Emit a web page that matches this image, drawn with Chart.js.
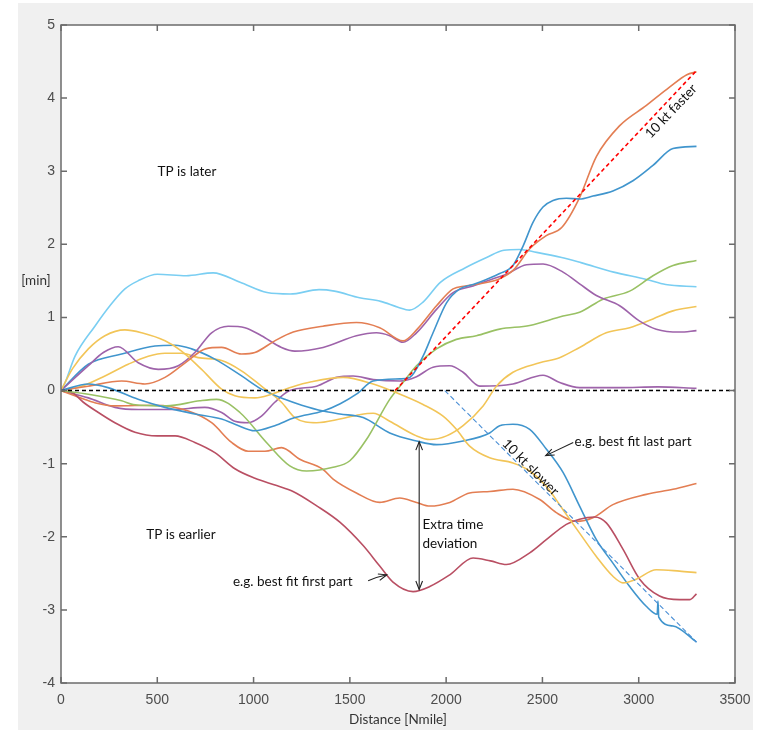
<!DOCTYPE html>
<html>
<head>
<meta charset="utf-8">
<script src="https://cdn.jsdelivr.net/npm/chart.js@4.4.1/dist/chart.umd.min.js"></script>
<style>
  html, body { margin: 0; padding: 0; background: #fff; }
  #wrap { width: 761px; height: 730px; }
</style>
</head>
<body>
<div id="wrap"><canvas id="deviation" width="761" height="730"></canvas></div>
<script>
// axis ticks
const xTicks = [0, 500, 1000, 1500, 2000, 2500, 3000, 3500];
const yTicks = [-4, -3, -2, -1, 0, 1, 2, 3, 4, 5];

// [distance Nmile, deviation min]
const blueLow = [[0,0],[142,0.09],[244,0.04],[400,-0.12],[540,-0.23],[695,-0.32],[834,-0.39],[903,-0.46],[1007,-0.55],[1110,-0.48],[1214,-0.37],[1361,-0.28],[1450,-0.18],[1534,-0.05],[1621,0.13],[1760,0.16],[1811,0.18],[1880,0.47],[1932,0.79],[2002,1.2],[2071,1.39],[2140,1.45],[2209,1.52],[2278,1.6],[2347,1.71],[2400,1.98],[2451,2.3],[2503,2.51],[2555,2.6],[2624,2.63],[2693,2.62],[2762,2.66],[2866,2.73],[2970,2.87],[3074,3.08],[3178,3.31],[3300,3.34]];
const orangeUp = [[0,0],[140,0.06],[315,0.13],[436,0.09],[540,0.18],[660,0.41],[750,0.57],[834,0.59],[937,0.5],[1007,0.52],[1110,0.68],[1206,0.8],[1360,0.88],[1534,0.93],[1655,0.86],[1776,0.68],[1850,0.84],[1950,1.16],[2036,1.39],[2100,1.43],[2174,1.46],[2278,1.53],[2350,1.65],[2434,1.94],[2520,2.12],[2600,2.23],[2693,2.64],[2780,3.2],[2900,3.62],[3040,3.9],[3160,4.15],[3250,4.32],[3300,4.36]];
const yellowHigh = [[0,0],[60,0.3],[142,0.57],[228,0.75],[332,0.83],[419,0.79],[540,0.68],[626,0.54],[730,0.29],[834,0.02],[903,-0.07],[1007,-0.1],[1093,-0.05],[1200,0.05],[1300,0.12],[1465,0.18],[1621,0.09],[1742,-0.03],[1880,-0.19],[1984,-0.35],[2053,-0.53],[2122,-0.76],[2226,-0.92],[2347,-0.99],[2434,-1.1],[2520,-1.31],[2607,-1.63],[2693,-1.95],[2780,-2.27],[2866,-2.54],[2918,-2.63],[2987,-2.58],[3091,-2.45],[3212,-2.47],[3300,-2.49]];
const purpleUp = [[0,0],[142,0.34],[220,0.52],[297,0.6],[401,0.38],[505,0.29],[609,0.34],[695,0.52],[782,0.79],[868,0.88],[955,0.86],[1041,0.75],[1145,0.59],[1214,0.54],[1361,0.59],[1534,0.75],[1638,0.79],[1707,0.75],[1776,0.66],[1846,0.79],[1950,1.11],[2036,1.34],[2140,1.43],[2244,1.53],[2313,1.59],[2417,1.72],[2503,1.73],[2607,1.62],[2693,1.46],[2780,1.3],[2901,1.16],[3005,0.95],[3091,0.84],[3212,0.8],[3300,0.82]];
const green = [[0,0],[142,-0.05],[315,-0.14],[375,-0.19],[548,-0.21],[721,-0.14],[808,-0.12],[929,-0.3],[1067,-0.71],[1188,-1.03],[1275,-1.1],[1413,-1.05],[1500,-0.96],[1586,-0.67],[1707,-0.12],[1776,0.11],[1846,0.34],[1950,0.57],[2053,0.7],[2157,0.75],[2278,0.84],[2434,0.89],[2607,1.02],[2693,1.07],[2814,1.25],[2953,1.36],[3074,1.57],[3178,1.71],[3300,1.78]];
const lightBlue = [[0,0],[20,0.1],[73,0.47],[176,0.88],[254,1.16],[332,1.39],[400,1.5],[500,1.59],[650,1.57],[790,1.61],[930,1.48],[1070,1.34],[1190,1.32],[1340,1.38],[1420,1.36],[1550,1.27],[1660,1.22],[1750,1.14],[1810,1.1],[1880,1.21],[1970,1.48],[2100,1.68],[2210,1.82],[2300,1.92],[2380,1.93],[2470,1.89],[2600,1.82],[2700,1.75],[2870,1.62],[3040,1.52],[3140,1.45],[3300,1.42]];
const darkRed = [[0,0],[60,-0.03],[116,-0.16],[194,-0.3],[280,-0.44],[384,-0.57],[500,-0.62],[592,-0.62],[695,-0.71],[799,-0.85],[903,-1.07],[1007,-1.2],[1120,-1.3],[1205,-1.38],[1330,-1.58],[1448,-1.8],[1569,-2.12],[1655,-2.4],[1724,-2.62],[1828,-2.75],[1915,-2.68],[2019,-2.52],[2140,-2.29],[2230,-2.33],[2313,-2.38],[2434,-2.22],[2520,-2.04],[2624,-1.83],[2693,-1.76],[2771,-1.73],[2832,-1.81],[2918,-2.17],[3005,-2.58],[3108,-2.81],[3212,-2.86],[3264,-2.86],[3300,-2.78]];
const blueHigh = [[0,0],[142,0.36],[315,0.5],[488,0.61],[592,0.62],[678,0.57],[799,0.43],[938,0.2],[1041,0.02],[1162,-0.12],[1250,-0.2],[1361,-0.28],[1448,-0.32],[1569,-0.37],[1707,-0.58],[1846,-0.69],[1950,-0.74],[2088,-0.69],[2226,-0.58],[2278,-0.48],[2347,-0.46],[2434,-0.53],[2520,-0.8],[2607,-1.12],[2693,-1.58],[2780,-2.04],[2866,-2.36],[2953,-2.68],[3039,-2.95],[3096,-3.06],[3100,-2.88],[3104,-3.1],[3178,-3.22],[3300,-3.44]];
const orangeLow = [[0,0],[100,-0.1],[180,-0.17],[280,-0.21],[488,-0.2],[661,-0.28],[782,-0.44],[886,-0.71],[972,-0.83],[1059,-0.83],[1145,-0.78],[1240,-0.94],[1361,-1.08],[1413,-1.21],[1534,-1.4],[1655,-1.53],[1759,-1.47],[1846,-1.53],[1915,-1.58],[2019,-1.53],[2122,-1.4],[2226,-1.38],[2347,-1.35],[2486,-1.49],[2572,-1.67],[2676,-1.79],[2762,-1.74],[2866,-1.56],[3039,-1.42],[3178,-1.35],[3300,-1.27]];
const yellowLow = [[0,0],[107,0.06],[228,0.2],[349,0.36],[453,0.47],[540,0.51],[626,0.51],[712,0.45],[834,0.41],[937,0.27],[1041,0.06],[1145,-0.16],[1214,-0.37],[1327,-0.44],[1448,-0.39],[1550,-0.33],[1621,-0.31],[1707,-0.42],[1846,-0.62],[1915,-0.67],[2002,-0.62],[2088,-0.48],[2192,-0.21],[2261,0.06],[2347,0.25],[2486,0.38],[2589,0.45],[2693,0.59],[2831,0.79],[2953,0.86],[3074,0.98],[3178,1.09],[3300,1.15]];
const purpleLow = [[0,0],[142,-0.1],[280,-0.23],[401,-0.26],[574,-0.26],[747,-0.23],[834,-0.3],[903,-0.42],[972,-0.44],[1041,-0.35],[1110,-0.16],[1188,0],[1327,0.06],[1431,0.18],[1517,0.2],[1621,0.15],[1759,0.13],[1846,0.19],[1932,0.32],[2019,0.34],[2088,0.25],[2174,0.06],[2347,0.09],[2503,0.21],[2590,0.11],[2693,0.04],[2900,0.04],[3100,0.05],[3300,0.03]];

// reference lines
const zeroLine = [[0,0],[3500,0]];
const fasterLine = [[1735,0],[3305,4.39]];
const slowerLine = [[1993,0],[3300,-3.44]];

const toXY = (arr) => arr.map(([x, y]) => ({ x, y }));

function curve(data, color) {
	return {
		data: toXY(data),
		borderColor: color,
		borderWidth: 1.6,
		pointRadius: 0,
		showLine: true,
		cubicInterpolationMode: "monotone",
		order: 2,
	};
}

function dashed(data, color, width, dash) {
	return {
		data: toXY(data),
		borderColor: color,
		borderWidth: width,
		borderDash: dash,
		pointRadius: 0,
		showLine: true,
		order: 1,
	};
}

/*arrow with open head at the end point*/
function arrowHead(ctx, x1, y1, x2, y2) {
	const ang = Math.atan2(y2 - y1, x2 - x1);
	const len = 9;
	ctx.beginPath();
	ctx.moveTo(x2 - len * Math.cos(ang - 0.38), y2 - len * Math.sin(ang - 0.38));
	ctx.lineTo(x2, y2);
	ctx.lineTo(x2 - len * Math.cos(ang + 0.38), y2 - len * Math.sin(ang + 0.38));
	ctx.stroke();
}

const frame = {
	id: "frame",
	beforeDraw(chart) {
		const { ctx, chartArea: a } = chart;
		ctx.save();
		ctx.fillStyle = "#ffffff";
		ctx.fillRect(0, 0, chart.width, chart.height);
		ctx.fillStyle = "#f0f0f0";
		ctx.fillRect(18, 3, 735, 727);
		ctx.fillStyle = "#ffffff";
		ctx.fillRect(a.left, a.top, a.right - a.left, a.bottom - a.top);
		ctx.restore();
	},
	afterDraw(chart) {
		const { ctx, chartArea: a } = chart;
		const xs = chart.scales.x;
		const ys = chart.scales.y;
		const px = (v) => xs.getPixelForValue(v);
		const py = (v) => ys.getPixelForValue(v);
		ctx.save();
		/*box and inward ticks*/
		ctx.strokeStyle = "#6b6b6b";
		ctx.lineWidth = 1.5;
		ctx.strokeRect(a.left, a.top, a.right - a.left, a.bottom - a.top);
		ctx.beginPath();
		xTicks.forEach((t) => {
			ctx.moveTo(px(t), a.bottom);
			ctx.lineTo(px(t), a.bottom - 6);
			ctx.moveTo(px(t), a.top);
			ctx.lineTo(px(t), a.top + 6);
		});
		yTicks.forEach((t) => {
			ctx.moveTo(a.left, py(t));
			ctx.lineTo(a.left + 6, py(t));
			ctx.moveTo(a.right, py(t));
			ctx.lineTo(a.right - 6, py(t));
		});
		ctx.stroke();

		/*axis titles*/
		ctx.fillStyle = "#333333";
		ctx.font = "13.5px Lato";
		ctx.textAlign = "center";
		ctx.textBaseline = "middle";
		ctx.fillText("[min]", 36, py(1.5));
		ctx.fillText("Distance [Nmile]", px(1750), 720);

		/*notes*/
		ctx.fillStyle = "#111111";
		ctx.font = "13.5px Lato";
		ctx.fillText("TP is later", px(654), py(3.0));
		ctx.fillText("TP is earlier", px(623), py(-1.97));
		ctx.textAlign = "left";
		ctx.fillText("e.g. best fit first part", px(893), py(-2.61));
		ctx.fillText("e.g. best fit last part", px(2667), py(-0.7));
		ctx.fillText("Extra time", px(1877), py(-1.84));
		ctx.fillText("deviation", px(1877), py(-2.1));

		ctx.textAlign = "center";
		ctx.save();
		ctx.translate(px(3168), py(3.82));
		ctx.rotate(-46.6 * Math.PI / 180);
		ctx.fillText("10 kt faster", 0, 0);
		ctx.restore();
		ctx.save();
		ctx.translate(px(2438), py(-1.05));
		ctx.rotate(45 * Math.PI / 180);
		ctx.fillText("10 kt slower", 0, 0);
		ctx.restore();

		/*arrows*/
		ctx.strokeStyle = "#222222";
		ctx.lineWidth = 1.1;
		const ax = px(1860);
		const top = py(-0.7);
		const bot = py(-2.72);
		ctx.beginPath();
		ctx.moveTo(ax, top);
		ctx.lineTo(ax, bot);
		ctx.stroke();
		arrowHead(ctx, ax, bot, ax, top);
		arrowHead(ctx, ax, top, ax, bot);

		ctx.beginPath();
		ctx.moveTo(px(1595), py(-2.6));
		ctx.quadraticCurveTo(px(1640), py(-2.55), px(1692), py(-2.52));
		ctx.stroke();
		arrowHead(ctx, px(1640), py(-2.56), px(1692), py(-2.52));

		ctx.beginPath();
		ctx.moveTo(px(2660), py(-0.71));
		ctx.lineTo(px(2517), py(-0.89));
		ctx.stroke();
		arrowHead(ctx, px(2660), py(-0.71), px(2517), py(-0.89));
		ctx.restore();
	},
};

const tickFont = { family: "Liberation Sans", size: 14 };

new Chart(document.getElementById("deviation"), {
	type: "scatter",
	data: {
		datasets: [
			dashed(zeroLine, "#000000", 1.5, [4, 3]),
			dashed(fasterLine, "#ff0000", 1.6, [4, 3]),
			dashed(slowerLine, "#4a8fd6", 1.1, [5, 3]),
			curve(blueLow, "#4095cd"),
			curve(orangeUp, "#e37e53"),
			curve(yellowHigh, "#f2c558"),
			curve(purpleUp, "#9e63aa"),
			curve(green, "#99c164"),
			curve(lightBlue, "#7acef2"),
			curve(darkRed, "#b94f63"),
			curve(blueHigh, "#4095cd"),
			curve(orangeLow, "#e37e53"),
			curve(yellowLow, "#f2c558"),
			curve(purpleLow, "#9e63aa"),
		],
	},
	options: {
		responsive: false,
		animation: false,
		devicePixelRatio: 1,
		layout: { padding: { left: 0, right: 26, top: 25, bottom: 0 } },
		plugins: { legend: { display: false }, tooltip: { enabled: false } },
		scales: {
			x: {
				type: "linear",
				min: 0,
				max: 3500,
				afterFit: (scale) => { scale.height = 47; },
				afterBuildTicks: (scale) => { scale.ticks = xTicks.map((v) => ({ value: v })); },
				grid: { display: false, drawTicks: false },
				border: { display: false },
				ticks: { padding: 9, color: "#4d4d4d", font: tickFont, callback: (v) => String(v) },
			},
			y: {
				type: "linear",
				min: -4,
				max: 5,
				afterFit: (scale) => { scale.width = 61; },
				afterBuildTicks: (scale) => { scale.ticks = yTicks.map((v) => ({ value: v })); },
				grid: { display: false, drawTicks: false },
				border: { display: false },
				ticks: { padding: 6, color: "#4d4d4d", font: tickFont, callback: (v) => String(v) },
			},
		},
	},
	plugins: [frame],
});
</script>
</body>
</html>
